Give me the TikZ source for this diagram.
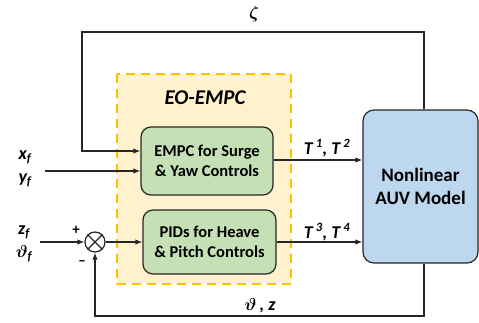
\documentclass[tikz,border=0pt]{standalone}
\usepackage{fontspec}
\setmainfont{Carlito}
\usepackage{amsmath,bm}
\usetikzlibrary{arrows.meta}
\definecolor{greenfill}{HTML}{C5E0B4}
\definecolor{bluefill}{HTML}{BDD7EE}
\definecolor{yellowfill}{HTML}{FFF2CC}
\definecolor{yellowline}{HTML}{FFC000}
\definecolor{edge}{HTML}{262626}
\begin{document}
\begin{tikzpicture}[x=1pt,y=-1pt,
  conn/.style={line width=1.3pt, draw=edge},
  arr/.style={conn, -{Latex[length=7pt,width=5.5pt]}},
  ctrl/.style={draw=edge, line width=1.2pt, fill=greenfill, rounded corners=10pt,
    inner sep=0pt, align=center, font=\fontsize{16.5}{20.5}\selectfont\bfseries},
  plant/.style={draw=edge, line width=1.2pt, fill=bluefill, rounded corners=11pt,
    inner sep=0pt, align=center, font=\fontsize{19}{23}\selectfont\bfseries},
  lbl/.style={inner sep=0pt, font=\fontsize{18}{20}\selectfont\bfseries\itshape},
  sign/.style={inner sep=0pt, font=\fontsize{15}{17}\selectfont\bfseries}]
\useasboundingbox (0,0) rectangle (479,322);

% controller group
\draw[yellowline, fill=yellowfill, line width=1.3pt, dash pattern=on 9pt off 6pt]
  (117,74) rectangle (291,284);
\node[lbl, font=\fontsize{21}{24}\selectfont\bfseries\itshape] (grp) at (205,98) {EO-EMPC};

% blocks
\node[ctrl, minimum width=132pt, minimum height=68pt] (empc) at (207,161)
  {EMPC for Surge\\\& Yaw Controls};
\node[ctrl, minimum width=133pt, minimum height=64pt] (pid) at (209.5,242)
  {PIDs for Heave\\\& Pitch Controls};
\node[plant, minimum width=115pt, minimum height=153pt] (auv) at (420.5,186.5)
  {Nonlinear\\AUV Model};

% summing junction
\node[draw=edge, line width=1.2pt, circle, minimum size=20pt, inner sep=0pt, fill=white] (sum) at (95,242) {};
\draw[edge, line width=1.2pt] (sum.north west) -- (sum.south east) (sum.north east) -- (sum.south west);

% reference inputs
\node[lbl] (xf) at (25,157) {x\textsubscript{f}};
\node[lbl] (yf) at (25,180) {y\textsubscript{f}};
\node[lbl] (zf) at (24,232) {z\textsubscript{f}};
\node[lbl] (thf) at (24,254) {$\bm{\vartheta}$\textsubscript{f}};
\coordinate (inxy) at (45,171);
\coordinate (inzt) at (40,242);
\draw[arr] (inxy) -- (empc.west |- inxy);
\draw[arr] (inzt) -- (sum.west);
\node[sign] (plus) at (76,230) {+};
\node[sign] (minus) at (82,263) {--};

% forward path
\draw[arr] (sum.east) -- (pid.west);
\draw[arr] (empc.east |- 0,160) -- (auv.west |- 0,160);
\draw[arr] (pid.east) -- (auv.west |- pid.east);
\node[lbl] (t12) at (327,148) {T\,\textsuperscript{1}, T\,\textsuperscript{2}};
\node[lbl] (t34) at (327,232) {T\,\textsuperscript{3}, T\,\textsuperscript{4}};

% feedback paths
\coordinate (ftop) at (424,32);
\coordinate (fleft) at (82,151);
\coordinate (fbot) at (424,316);
\draw[arr] (auv.north -| ftop) -- (ftop) -| (fleft) -- (empc.west |- fleft);
\draw[arr] (auv.south -| fbot) -- (fbot) -| (sum.south);
\node[lbl] (zeta) at (254,14) {$\bm{\zeta}$};
\node[lbl] (thz) at (260,306) {$\bm{\vartheta}$\,, z};
\end{tikzpicture}
\end{document}
